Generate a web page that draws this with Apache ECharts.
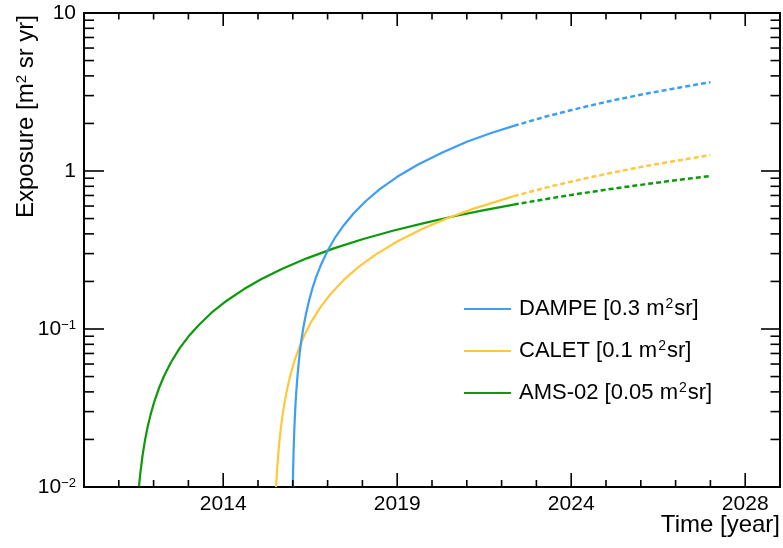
<!DOCTYPE html>
<html>
<head>
<meta charset="utf-8">
<script src="https://cdn.jsdelivr.net/npm/echarts@6/dist/echarts.min.js"></script>
<style>
  html, body { margin: 0; padding: 0; background: #fff; }
  #main { width: 783px; height: 548px; }
</style>
</head>
<body>
<div id="main"></div>
<script>
  // 曲线数据 (年份, 曝光量 m2 sr yr)
  var dampeYears = [2016.0, 2016.01, 2016.025, 2016.04, 2016.06, 2016.08, 2016.1, 2016.13, 2016.16, 2016.2, 2016.25, 2016.31, 2016.38, 2016.46, 2016.56, 2016.68, 2016.82, 2017.0, 2017.2, 2017.45, 2017.75, 2018.1, 2018.5, 2019.0, 2019.6, 2020.3, 2021.0, 2021.7, 2022.35];
  var dampeExposure = [0.010, 0.013, 0.0176, 0.022, 0.028, 0.034, 0.040, 0.049, 0.058, 0.071, 0.086, 0.104, 0.125, 0.149, 0.180, 0.216, 0.258, 0.313, 0.374, 0.449, 0.540, 0.646, 0.767, 0.919, 1.10, 1.31, 1.53, 1.74, 1.93];
  var dampeProjYears = [2022.35, 2023.3, 2024.3, 2025.2, 2026.1, 2027.0, 2028.0];
  var dampeProjExposure = [1.93, 2.22, 2.52, 2.80, 3.07, 3.34, 3.65];

  var caletYears = [2015.52, 2015.55, 2015.59, 2015.64, 2015.7, 2015.77, 2015.85, 2015.95, 2016.07, 2016.2, 2016.35, 2016.55, 2016.8, 2017.1, 2017.45, 2017.9, 2018.4, 2019.0, 2019.7, 2020.4, 2021.2, 2022.35];
  var caletExposure = [0.010, 0.013, 0.017, 0.022, 0.028, 0.035, 0.043, 0.053, 0.065, 0.078, 0.093, 0.113, 0.138, 0.168, 0.203, 0.248, 0.298, 0.358, 0.428, 0.498, 0.578, 0.693];
  var caletProjYears = [2022.35, 2023.3, 2024.3, 2025.2, 2026.1, 2027.0, 2028.0];
  var caletProjExposure = [0.693, 0.788, 0.888, 0.978, 1.07, 1.16, 1.26];

  var amsYears = [2011.58, 2011.62, 2011.68, 2011.75, 2011.83, 2011.92, 2012.02, 2012.15, 2012.3, 2012.5, 2012.75, 2013.0, 2013.3, 2013.7, 2014.1, 2014.6, 2015.1, 2015.7, 2016.4, 2017.2, 2018.0, 2018.9, 2019.8, 2020.7, 2021.5, 2022.35];
  var amsExposure = [0.0101, 0.0123, 0.0157, 0.0196, 0.0241, 0.0291, 0.0347, 0.042, 0.0504, 0.0616, 0.0756, 0.0896, 0.106, 0.129, 0.151, 0.179, 0.207, 0.241, 0.280, 0.325, 0.370, 0.420, 0.470, 0.521, 0.566, 0.613];
  var amsProjYears = [2022.35, 2023.3, 2024.3, 2025.2, 2026.1, 2027.0, 2028.0];
  var amsProjExposure = [0.613, 0.666, 0.722, 0.773, 0.823, 0.874, 0.930];

  var seriesNames = ['DAMPE', 'CALET', 'AMS-02'];
  var legendLabels = ['DAMPE [0.3 m{s|2}sr]', 'CALET [0.1 m{s|2}sr]', 'AMS-02 [0.05 m{s|2}sr]'];
  var colors = ['#3d9ef5', '#ffc83c', '#0a9a0a'];

  // 坐标轴刻度
  var xMajorTicks = [2014, 2019, 2024, 2029];
  var xTickLabels = ['2014', '2019', '2024', '2028'];
  var yMajorTicks = [0.01, 0.1, 1, 10];
  var yTickLabels = ['10{s|\u22122}', '10{s|\u22121}', '1', '10'];

  var X_MIN = 2010, X_MAX = 2030, Y_MIN = 0.01, Y_MAX = 10;
  var FONT = 'Liberation Sans';

  function pairs(xs, ys) {
    return xs.map(function (x, i) { return [x, ys[i]]; });
  }

  // 刻度线数据 [x, y, 类型(0=x,1=y), 长度因子(1=主,0.5=次)]
  var tickData = [];
  for (var yr = X_MIN; yr <= X_MAX; yr++) {
    tickData.push([yr, 1, 0, xMajorTicks.indexOf(yr) >= 0 ? 1 : 0.5]);
  }
  yMajorTicks.forEach(function (v) { tickData.push([2020, v, 1, 1]); });
  [0.01, 0.1, 1].forEach(function (d) {
    for (var k = 2; k <= 9; k++) tickData.push([2020, +(k * d).toPrecision(3), 1, 0.5]);
  });

  var myChart = echarts.init(document.getElementById('main'));

  var series = [];
  var solid = [pairs(dampeYears, dampeExposure), pairs(caletYears, caletExposure), pairs(amsYears, amsExposure)];
  var proj = [pairs(dampeProjYears, dampeProjExposure), pairs(caletProjYears, caletProjExposure), pairs(amsProjYears, amsProjExposure)];
  // 先画 AMS，再 CALET，最后 DAMPE
  [2, 1, 0].forEach(function (i) {
    series.push({
      name: seriesNames[i],
      type: 'line',
      data: solid[i],
      symbol: 'none',
      lineStyle: { color: colors[i], width: 2.2 },
      itemStyle: { color: colors[i] },
      clip: true
    });
    series.push({
      name: seriesNames[i] + ' proj',
      type: 'line',
      data: proj[i],
      symbol: 'none',
      lineStyle: { color: colors[i], width: 2.5, type: [5, 3] },
      itemStyle: { color: colors[i] },
      clip: true
    });
  });

  series.push({
    type: 'custom',
    name: 'ticks',
    silent: true,
    clip: false,
    z: 10,
    encode: { x: 0, y: 1 },
    data: tickData,
    renderItem: function (params, api) {
      var cs = params.coordSys;
      var kind = api.value(2), f = api.value(3);
      var st = { stroke: '#000', lineWidth: 1.6 };
      if (kind === 0) {
        var px = api.coord([api.value(0), 1])[0];
        var b = cs.y + cs.height;
        return { type: 'group', children: [
          { type: 'line', shape: { x1: px, y1: b, x2: px, y2: b - 14 * f }, style: st },
          { type: 'line', shape: { x1: px, y1: cs.y, x2: px, y2: cs.y + 13 * f }, style: st }
        ] };
      }
      var py = api.coord([2020, api.value(1)])[1];
      var r = cs.x + cs.width;
      return { type: 'group', children: [
        { type: 'line', shape: { x1: cs.x, y1: py, x2: cs.x + 20 * f, y2: py }, style: st },
        { type: 'line', shape: { x1: r, y1: py, x2: r - 19 * f, y2: py }, style: st }
      ] };
    }
  });

  var option = {
    animation: false,
    backgroundColor: '#fff',
    textStyle: { fontFamily: FONT },
    grid: {
      left: 84, right: 3, top: 13, bottom: 61,
      show: true, borderColor: '#000', borderWidth: 2,
      containLabel: false, outerBoundsMode: 'none'
    },
    legend: {
      data: seriesNames,
      orient: 'vertical',
      left: 464, top: 297,
      padding: 0,
      itemWidth: 47, itemHeight: 14, itemGap: 18,
      icon: 'path://M0,6 L47,6 L47,8 L0,8 Z',
      formatter: function (name) { return legendLabels[seriesNames.indexOf(name)]; },
      textStyle: {
        fontFamily: FONT, fontSize: 22, color: '#000', lineHeight: 24, padding: [0, 0, 0, 3],
        rich: { s: { fontSize: 14, verticalAlign: 'top', lineHeight: 10, fontFamily: FONT, padding: [0, 1, 0, 1] } }
      }
    },
    xAxis: {
      type: 'value',
      min: X_MIN, max: X_MAX, interval: 1,
      axisLine: { show: false },
      axisTick: { show: false },
      splitLine: { show: false },
      axisLabel: {
        margin: 7, fontSize: 21, color: '#000', fontFamily: FONT,
        showMinLabel: true, showMaxLabel: true,
        formatter: function (v) {
          var i = xMajorTicks.indexOf(Math.round(v));
          return i >= 0 ? xTickLabels[i] : '';
        }
      },
      name: 'Time [year]',
      nameLocation: 'end',
      nameGap: 0,
      nameMoveOverlap: false,
      nameTextStyle: { fontSize: 24, color: '#000', fontFamily: FONT, align: 'right', verticalAlign: 'top', padding: [26, 0, 0, 0] }
    },
    yAxis: {
      type: 'log',
      logBase: 10,
      min: Y_MIN, max: Y_MAX,
      axisLine: { show: false },
      axisTick: { show: false },
      splitLine: { show: false },
      minorTick: { show: false },
      axisLabel: {
        margin: 8, fontSize: 21, color: '#000', fontFamily: FONT,
        formatter: function (v) {
          var p = Math.round(Math.log10(v));
          var i = yMajorTicks.map(function (t) { return Math.round(Math.log10(t)); }).indexOf(p);
          return i >= 0 ? yTickLabels[i] : '';
        },
        rich: { s: { fontSize: 13, verticalAlign: 'top', lineHeight: 12, fontFamily: FONT, color: '#000' } }
      },
      name: 'Exposure [m{s|2} sr yr]',
      nameLocation: 'end',
      nameRotate: 90,
      nameGap: -2,
      nameMoveOverlap: false,
      nameTextStyle: {
        fontSize: 24, color: '#000', fontFamily: FONT, align: 'right', verticalAlign: 'bottom', padding: [0, 0, 46, 0],
        rich: { s: { fontSize: 15, verticalAlign: 'top', lineHeight: 11, fontFamily: FONT, color: '#000' } }
      }
    },
    series: series
  };
  myChart.setOption(option);
</script>
</body>
</html>
